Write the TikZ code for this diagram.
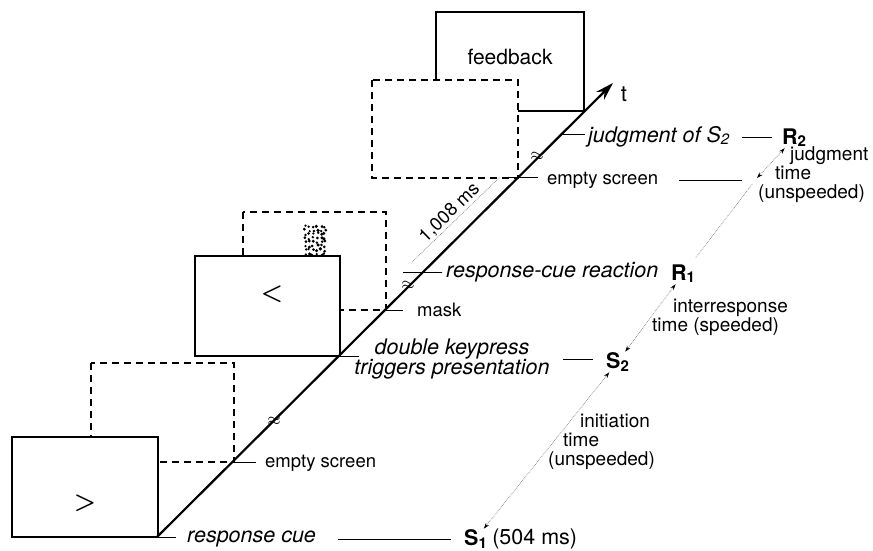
\documentclass[tikz,border=0pt]{standalone}
\usepackage{fontspec}
\setmainfont{TeX Gyre Heros}
\usetikzlibrary{arrows.meta, positioning, calc}

\newcommand{\lowidx}[1]{\raisebox{-0.2ex}{\fontsize{15}{15}\selectfont #1}}

\tikzset{
  screen/.style={draw, line width=1.3pt, fill=white},
  blankscreen/.style={draw, line width=1.3pt, dash pattern=on 7pt off 5pt, fill=white},
  tick/.style={line width=1pt},
  evt/.style={font=\fontsize{21.5}{20}\selectfont\itshape, inner sep=1pt},
  smalllbl/.style={font=\fontsize{18.5}{20}\selectfont, inner sep=1pt},
  spanlbl/.style={font=\fontsize{19}{19}\selectfont, inner sep=1pt, align=left, anchor=west},
  bigsym/.style={font=\fontsize{21.5}{22}\selectfont\bfseries, inner sep=1pt},
  cuesym/.style={font={\fontsize{24}{24}\selectfont\boldmath}},
  brk/.style={font=\fontsize{17}{17}\selectfont, inner sep=0pt},
  spanline/.style={densely dotted, black!50, line width=0.7pt},
  span/.style={spanline, {Stealth[length=6pt, width=4pt, black]}-{Stealth[length=6pt, width=4pt, black]}},
  taxis/.style={line width=2.2pt, -{Stealth[length=18pt, width=11pt]}},
}

\begin{document}
\begin{tikzpicture}[x=1pt, y=-1pt]
  \useasboundingbox (0,0) rectangle (873,551);

  % screens, the later ones at the back
  \draw[screen] (436,12) rectangle (584,111);
  \node[font=\fontsize{21}{22}\selectfont] (fb) at (510,57) {feedback};
  \draw[blankscreen] (372,80) rectangle (518,178);
  \draw[blankscreen] (243,212) rectangle (386,310);
  \pgfmathsetseed{11}
  \foreach \i in {0,...,5}
    \foreach \j in {0,...,7}
      \fill ({305+4*\i+rand*1.3},{226+4*\j+rand*1.3}) circle ({1.2+0.6*rnd});
  \draw[screen] (195,256) rectangle (340,356);
  \node[cuesym] (lt) at (272,294) {$<$};
  \draw[blankscreen] (91,363) rectangle (234,462);
  \draw[screen] (12,437) rectangle (158,537);
  \node[cuesym] (gt) at (85,503) {$>$};

  % time axis
  \coordinate (tstart) at (157,537);
  \coordinate (ttip) at (613,83);
  \draw[tick] (158,537) -- (176,537);
  \draw[tick] (234,462) -- (256,462);
  \draw[tick] (340,356) -- (359,356);
  \draw[tick] (386,310) -- (403,310);
  \draw[tick] (403,272) -- (442,272);
  \draw[tick] (502,177) -- (538,177);
  \draw[tick] (560,134) -- (585,134);
  \draw[taxis] (tstart) -- (ttip);
  \node[font=\fontsize{22}{22}\selectfont] (tlbl) at (624,94) {t};

  % breaks
  \node[brk] (brka) at (274,421) {$\approx$};
  \node[brk] (brkb) at (408,285) {$\approx$};
  \node[brk] (brkc) at (537,156) {$\approx$};

  % events
  \node[evt, anchor=west] (cue) at (186,539) {response cue};
  \node[bigsym, anchor=west] (sone) at (463,539) {S\lowidx{1}};
  \node[font=\fontsize{21.5}{22}\selectfont, inner sep=1pt, right=3pt of sone] (sonems) {(504 ms)};
  \draw[tick, shorten <=21pt, shorten >=12pt] (cue.east) -- (cue.east -| sone.west);

  \node[smalllbl, anchor=west] (esa) at (264,463) {empty screen};

  \node[evt, align=center] (dk) at (452,359) {double keypress\\triggers presentation};
  \node[bigsym, anchor=west] (stwo) at (605,362) {S\lowidx{2}};
  \draw[tick, shorten <=12pt, shorten >=12pt] (dk.east) -- (dk.east -| stwo.west);

  \node[smalllbl, anchor=west] (mk) at (416,310) {mask};

  \node[evt, anchor=west] (rcr) at (445,272) {response-cue reaction};
  \node[bigsym, anchor=west] (rone) at (670,274) {R\lowidx{1}};

  \node[smalllbl, anchor=west] (esb) at (546,180) {empty screen};
  \coordinate (jend) at (757,178);
  \draw[tick, shorten <=20pt, shorten >=15pt] (esb.east) -- (esb.east -| jend);

  \node[evt, anchor=west] (jud) at (587,137) {judgment of S\lowidx{2}};
  \node[bigsym, anchor=west] (rtwo) at (781,138) {R\lowidx{2}};
  \draw[tick, shorten <=12pt, shorten >=9pt] (jud.east) -- (jud.east -| rtwo.west);

  % intervals
  \draw[span] (jend) -- (rtwo);
  \draw[spanline, shorten <=8pt, shorten >=8pt] (jend) -- (rone);
  \draw[span] (rone) -- (stwo);
  \draw[span] (stwo) -- (sone);
  \node[spanlbl] (jt) at (757,175) {\hspace*{32pt}judgment\\\hspace*{17pt}time\\(unspeeded)};
  \node[spanlbl] (irt) at (651,317) {\hspace*{21pt}interresponse\\time (speeded)};
  \node[spanlbl] (it) at (547,442) {\hspace*{32pt}initiation\\\hspace*{15pt}time\\(unspeeded)};

  % 1,008 ms
  \coordinate (msa) at (412,262);
  \coordinate (msb) at (500,177);
  \draw[spanline] (msa) -- node[sloped, above, smalllbl, text=black] (msl) {1,008 ms} (msb);
\end{tikzpicture}
\end{document}
